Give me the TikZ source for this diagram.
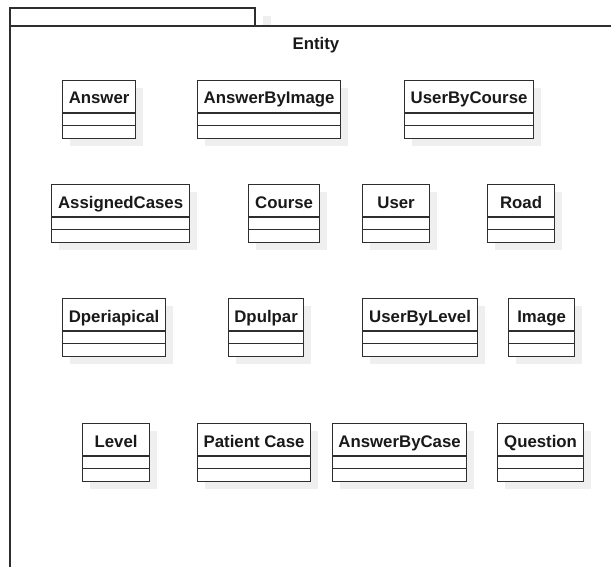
\documentclass[tikz,border=0pt]{standalone}
\usepackage{fontspec}
\setmainfont{Liberation Sans}
\usetikzlibrary{calc}
\definecolor{linegray}{HTML}{2E2E2E}
\definecolor{shadowgray}{HTML}{EFEFEF}
\tikzset{
  classbox/.style={draw=linegray, line width=1.2pt, fill=white, inner sep=0pt},
  classtitle/.style={font=\bfseries\fontsize{16.8}{19}\selectfont, text=black!90, inner sep=0pt, anchor=base},
  divider/.style={draw=linegray, line width=1.2pt},
  pkgline/.style={draw=linegray, line width=1.2pt},
}
% \entityclass{name}{left}{top}{right}{label}: a UML class with two empty compartments
\newcommand\entityclass[5]{%
  \fill[shadowgray] (#2+8,#3+8) rectangle (#4+8,#3+66);
  \node[classbox, anchor=north west, minimum width=#4-#2, minimum height=58] (#1) at (#2,#3) {};
  \node[classtitle] (#1-title) at ($(#1.north)+(0,24)$) {#5};
  \draw[divider] ($(#1.north west)+(0,33)$) -- ($(#1.north east)+(0,33)$);
  \draw[divider] ($(#1.north west)+(0,45.5)$) -- ($(#1.north east)+(0,45.5)$);
}
\begin{document}
\begin{tikzpicture}[x=1pt,y=-1pt]
  \useasboundingbox (0,0) rectangle (611,567);
  \clip (0,0) rectangle (611,567);
  \fill[white] (0,0) rectangle (611,567);
  % package frame with its tab
  \fill[shadowgray] (263,16) rectangle (271,26);
  \draw[pkgline] (10,26) -- (10,8) -- (255,8) -- (255,26);
  \draw[pkgline] (10,580) -- (10,26) -- (640,26);
  \node[classtitle] (pkgname) at (316,50) {Entity};
  % first row
  \entityclass{answer}{62}{80}{135}{Answer}
  \entityclass{answerbyimage}{197}{80}{340}{AnswerByImage}
  \entityclass{userbycourse}{404}{80}{533}{UserByCourse}
  % second row
  \entityclass{assignedcases}{51}{184}{189}{AssignedCases}
  \entityclass{course}{248}{184}{319}{Course}
  \entityclass{user}{362}{184}{429}{User}
  \entityclass{road}{487}{184}{554}{Road}
  % third row
  \entityclass{dperiapical}{62}{298}{165}{Dperiapical}
  \entityclass{dpulpar}{228}{298}{303}{Dpulpar}
  \entityclass{userbylevel}{362}{298}{477}{UserByLevel}
  \entityclass{image}{508}{298}{574}{Image}
  % fourth row
  \entityclass{level}{82}{423}{149}{Level}
  \entityclass{patientcase}{197}{423}{310}{Patient Case}
  \entityclass{answerbycase}{332}{423}{466}{AnswerByCase}
  \entityclass{question}{497}{423}{583}{Question}
\end{tikzpicture}
\end{document}
